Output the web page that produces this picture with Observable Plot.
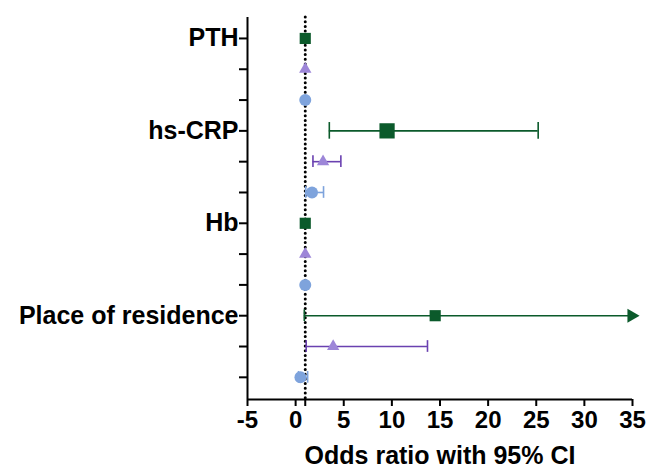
<!DOCTYPE html>
<html>
<head>
<meta charset="utf-8">
<script src="https://cdn.jsdelivr.net/npm/d3@7"></script>
<script src="https://cdn.jsdelivr.net/npm/@observablehq/plot@0.6"></script>
<style>
  html, body { margin: 0; padding: 0; background: #fff; }
  #chart svg text { font-weight: bold !important; font-family: 'Liberation Sans', Arial, sans-serif !important; font-size: 25px !important; fill: #000; }
  #chart svg g[aria-label="x-axis tick label"] text { font-size: 24px !important; }
</style>
</head>
<body>
<div id="chart"></div>
<script>
// ---- data ----
const rows = ["PTH", "hs-CRP", "Hb", "Place of residence"];
// series per row: square (green), triangle (purple), circle (blue)
const squareOR = [1.0, 9.5, 1.0, 14.5];
const squareLo = [null, 3.5, null, 0.9];
const squareHi = [null, 25.2, null, 35];
const squareArrow = [false, false, false, true];
const triOR = [1.0, 2.85, 1.0, 3.9];
const triLo = [null, 1.8, null, 1.1];
const triHi = [null, 4.7, null, 13.7];
const circOR = [1.0, 1.7, 1.0, 0.5];
const circLo = [null, 1.05, null, 0.3];
const circHi = [null, 2.9, null, 1.25];
const xTicks = [-5, 0, 1, 5, 10, 15, 20, 25, 30, 35];
const refLine = 1;

const green = "#0b5a2b", purpleFill = "#9d86d8", purpleLine = "#6a41b0", blue = "#7ea3dc";

const series = [
  {key: "square", or: squareOR, lo: squareLo, hi: squareHi, symbol: "square", fill: green, line: green, r: 6.3},
  {key: "triangle", or: triOR, lo: triLo, hi: triHi, symbol: "triangle", fill: purpleFill, line: purpleLine, r: 4.6},
  {key: "circle", or: circOR, lo: circLo, hi: circHi, symbol: "circle", fill: blue, line: blue, r: 6}
];

const pts = [];
rows.forEach((r, i) => {
  series.forEach((s, j) => {
    const big = s.key === "square" && r === "hs-CRP";
    pts.push({
      row: r, idx: i * 3 + j, or: s.or[i], lo: s.lo[i], hi: s.hi[i],
      symbol: s.symbol, fill: s.fill, line: s.line,
      r: big ? 8.6 : s.r,
      cap: big ? 0.27 : 0.19,
      arrow: s.key === "square" ? squareArrow[i] : false
    });
  });
});
const ci = pts.filter(d => d.lo != null);
const caps = ci.flatMap(d => {
  const c = [{x: d.lo, idx: d.idx, cap: d.cap, line: d.line}];
  if (!d.arrow) c.push({x: d.hi, idx: d.idx, cap: d.cap, line: d.line});
  return c;
});
const arrows = ci.filter(d => d.arrow);
const sizes = Array.from(new Set(pts.map(d => d.r)));

const yTop = -0.68, yBottom = 11.72;

const chart = Plot.plot({
  width: 649,
  height: 467,
  marginTop: 17,
  marginBottom: 68,
  marginLeft: 247,
  marginRight: 17,
  style: {fontFamily: "'Liberation Sans', Arial, sans-serif", fontSize: "25px", fontWeight: "bold", color: "#000", background: "#fff", overflow: "visible"},
  x: {domain: [-5, 35]},
  y: {domain: [yTop, yBottom], reverse: true},
  marks: [
    Plot.ruleX([refLine], {stroke: "#000", strokeWidth: 3, strokeDasharray: "0,4.7", strokeLinecap: "round"}),
    Plot.ruleY(ci, {y: "idx", x1: "lo", x2: "hi", stroke: "line", strokeWidth: 1.6}),
    Plot.ruleX(caps, {x: "x", y1: d => d.idx - d.cap, y2: d => d.idx + d.cap, stroke: "line", strokeWidth: 1.6}),
    Plot.dot(arrows, {x: "hi", y: "idx", symbol: "triangle", rotate: 90, r: 5.2, fill: "line", stroke: "none", dx: -1}),
    ...sizes.map(s => Plot.dot(pts.filter(d => d.r === s), {x: "or", y: "idx", symbol: "symbol", fill: "fill", r: s, stroke: "none"})),
    Plot.ruleX([-5], {stroke: "#000", strokeWidth: 2}),
    Plot.ruleY([yBottom], {stroke: "#000", strokeWidth: 2}),
    Plot.axisY({
      ticks: d3.range(12),
      tickFormat: i => i % 3 === 0 ? rows[i / 3] : "",
      tickSize: 8, tickPadding: 1, strokeWidth: 2,
      fontSize: 25, fontWeight: "bold", label: null
    }),
    Plot.axisX({
      ticks: xTicks,
      tickFormat: d => d === refLine ? "" : String(d),
      tickSize: 7, tickPadding: 4, strokeWidth: 2,
      fontSize: 24, fontWeight: "bold", label: null
    }),
    Plot.text(["Odds ratio with 95% CI"], {frameAnchor: "bottom", dy: 56, lineAnchor: "middle", fontSize: 25, fontWeight: "bold", fill: "#000"})
  ]
});
document.getElementById("chart").appendChild(chart);
</script>
</body>
</html>
